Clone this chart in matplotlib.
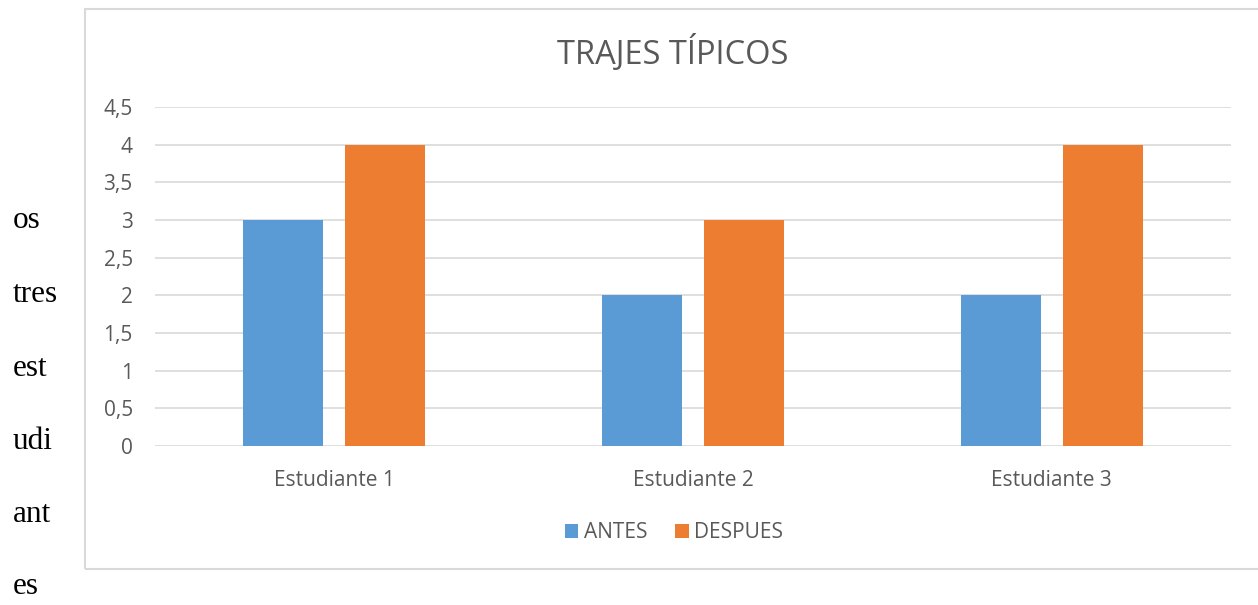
import matplotlib.pyplot as plt
import numpy as np
from matplotlib.patches import Rectangle

categories = ["Estudiante 1", "Estudiante 2", "Estudiante 3"]
antes = [3, 2, 2]
despues = [4, 3, 4]
yticks = [0, 0.5, 1, 1.5, 2, 2.5, 3, 3.5, 4, 4.5]
ytick_labels = ["0", "0,5", "1", "1,5", "2", "2,5", "3", "3,5", "4", "4,5"]
side_words = ["os", "tres", "est", "udi", "ant", "es"]
side_baselines = [228, 302, 376, 449, 522, 594]

BLUE = "#5B9BD5"
ORANGE = "#ED7D31"
GRIDC = "#D9D9D9"
TXT = "#595959"
W, H = 1258, 605

plt.rcParams["font.family"] = ["Open Sans", "DejaVu Sans"]

fig = plt.figure(figsize=(W / 100, H / 100), dpi=100)

# chart frame
fig.patches.append(
    Rectangle((85 / W, 1 - 569 / H), 1.2, (569 - 9) / H, transform=fig.transFigure,
              fill=False, edgecolor=GRIDC, linewidth=1.5)
)

ax = fig.add_axes([155 / W, 1 - 446 / H, (1231 - 155) / W, (446 - 107) / H])
x = np.arange(len(categories))
bw = 0.223
off = 0.142
ax.bar(x - off, antes, width=bw, color=BLUE, label="ANTES", zorder=3)
ax.bar(x + off, despues, width=bw, color=ORANGE, label="DESPUES", zorder=3)

ax.set_xlim(-0.5, 2.5)
ax.set_ylim(0, 4.5)
ax.set_yticks(yticks)
ax.set_yticklabels(ytick_labels)
ax.set_xticks(x)
ax.set_xticklabels(categories)
ax.yaxis.grid(True, color=GRIDC, linewidth=1.2, zorder=0)
for s in ax.spines.values():
    s.set_visible(False)
ax.tick_params(axis="both", length=0, colors=TXT, labelsize=15)
ax.tick_params(axis="y", pad=16)
ax.tick_params(axis="x", pad=17)

fig.text(673 / W, 1 - 64 / H, "TRAJES TÍPICOS", ha="center", va="baseline",
         fontsize=23.5, color=TXT)

fig.legend(loc="center", bbox_to_anchor=(674 / W, 1 - 533 / H), ncol=2,
           frameon=False, fontsize=15, labelcolor=TXT, handlelength=0.65,
           handleheight=0.65, handletextpad=0.25, columnspacing=1.35)

for word, b in zip(side_words, side_baselines):
    fig.text(13 / W, 1 - b / H, word, ha="left", va="baseline",
             fontsize=22.5, family=["Liberation Serif"], color="black")

fig.savefig("out.png", dpi=100)
